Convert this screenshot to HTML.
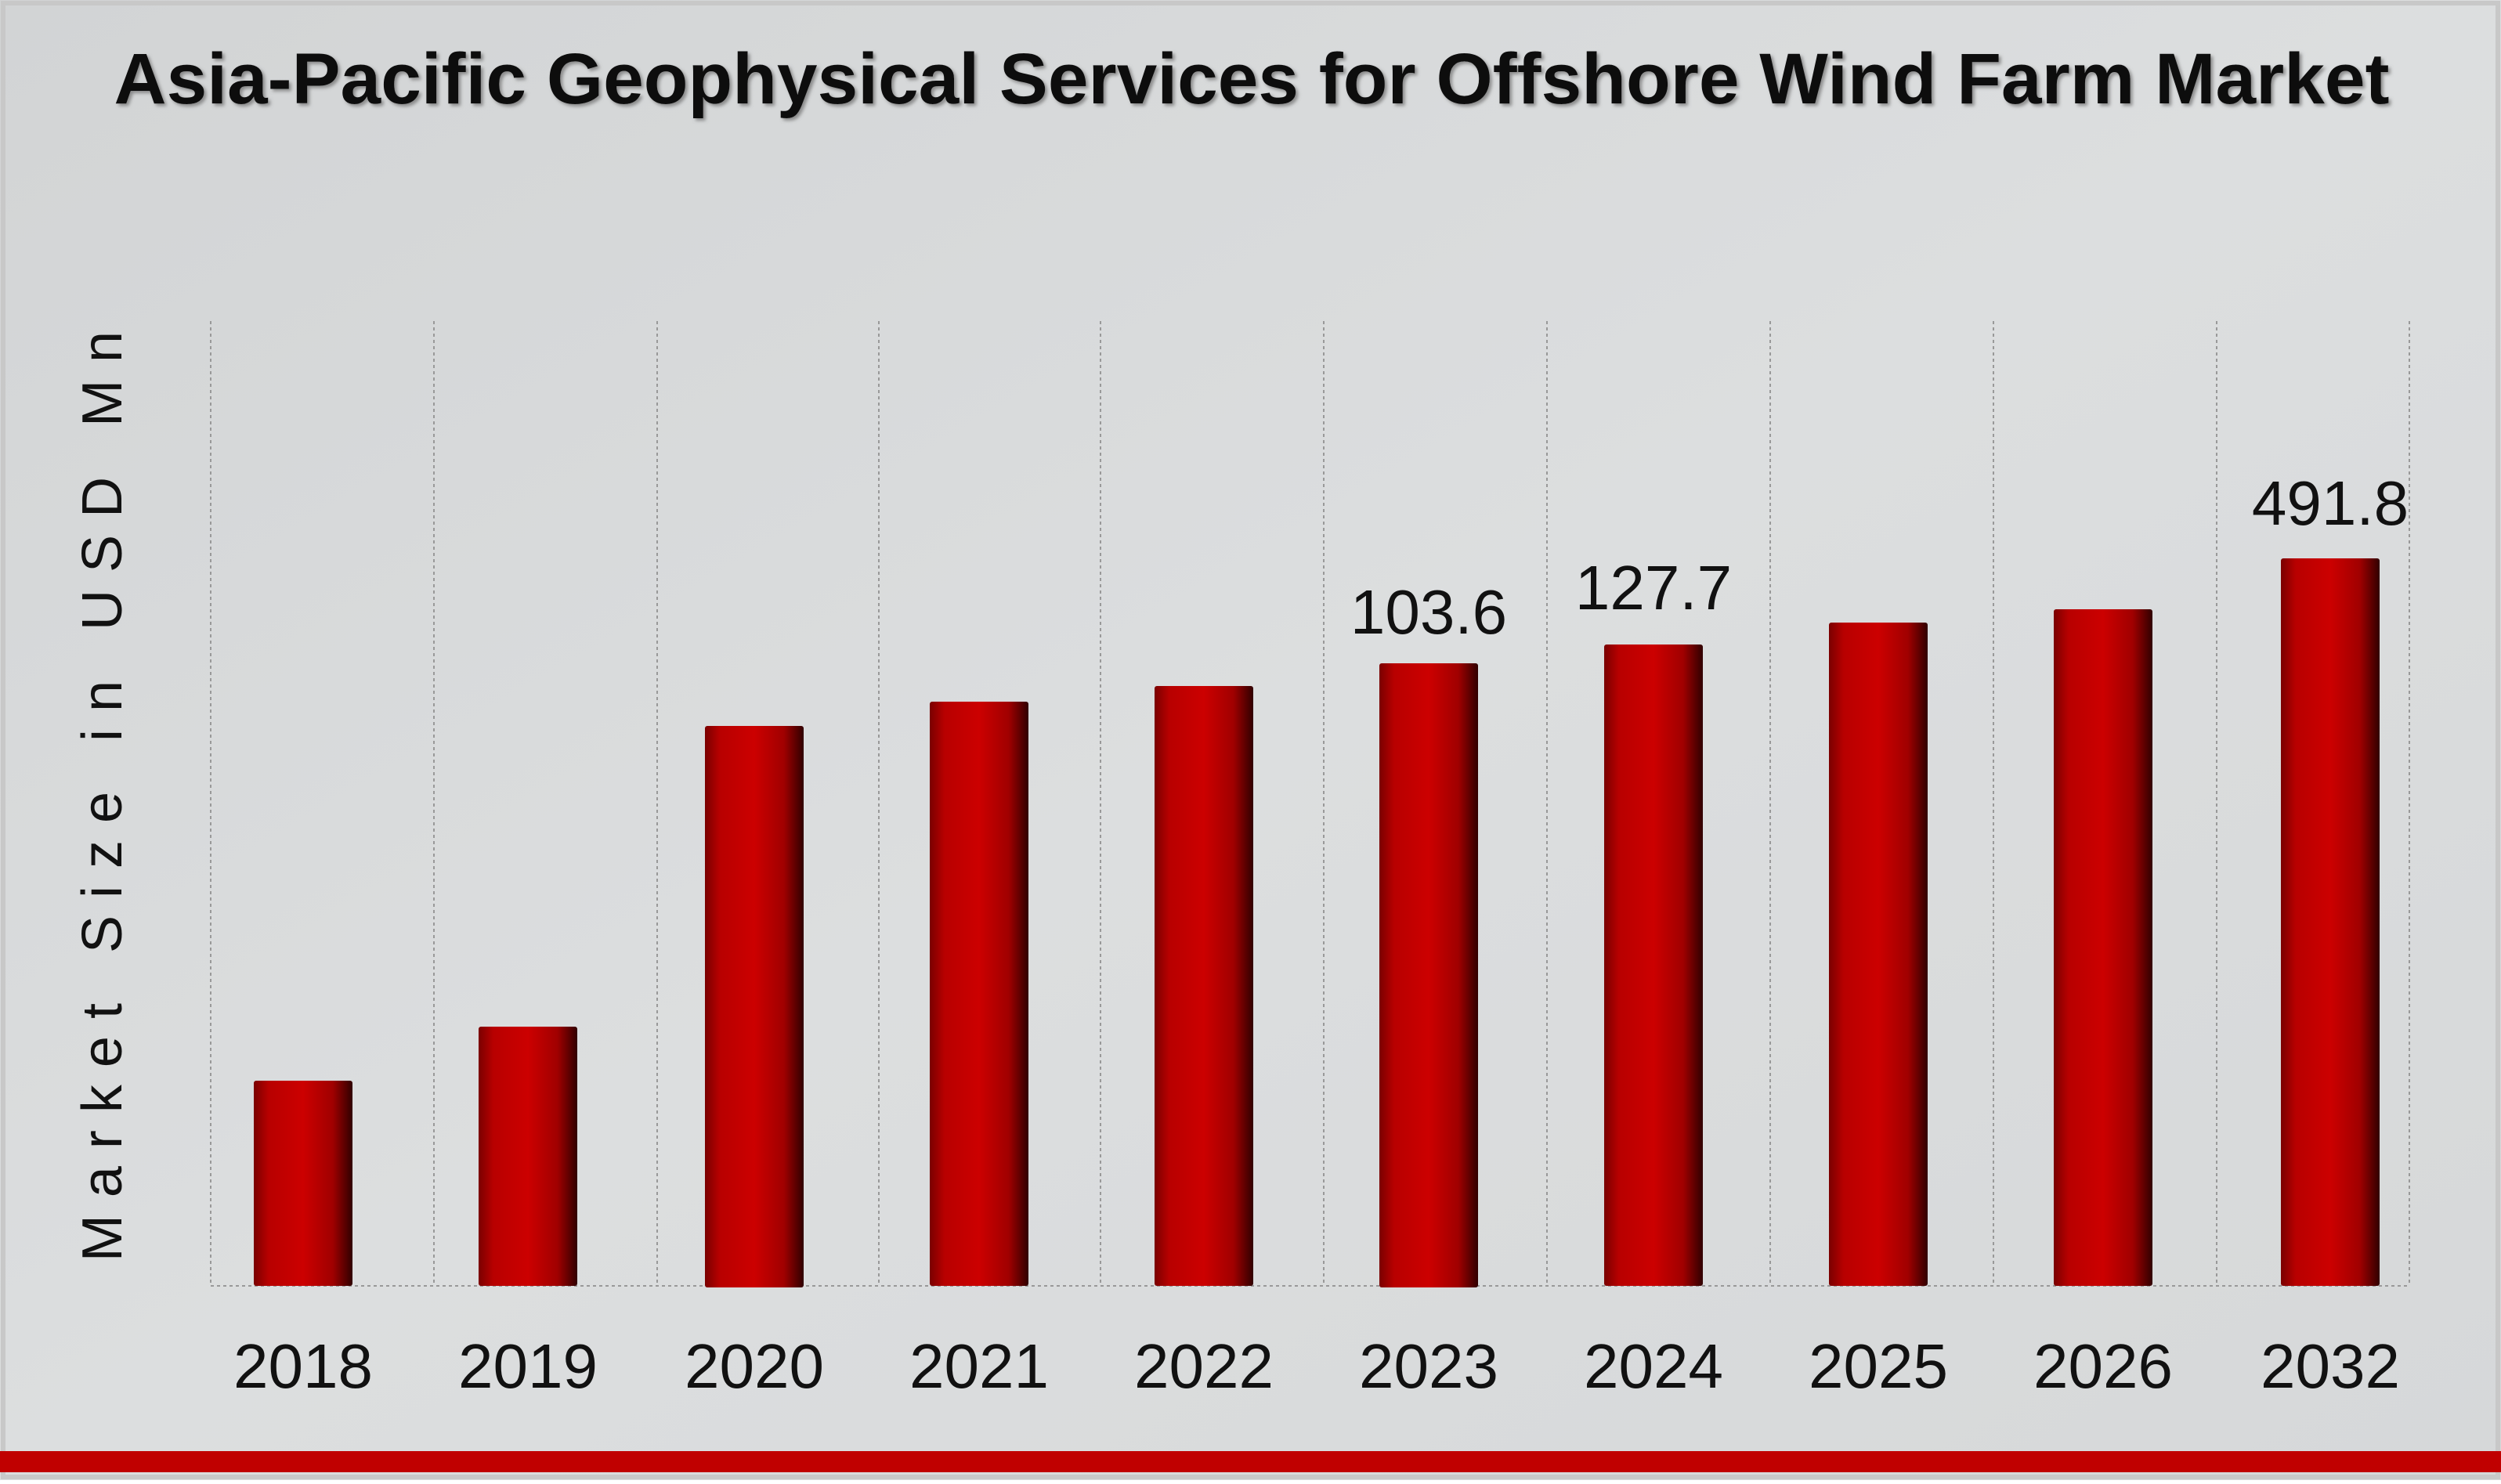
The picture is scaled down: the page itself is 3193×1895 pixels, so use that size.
<!DOCTYPE html>
<html><head><meta charset="utf-8"><style>
html,body{margin:0;padding:0}
body{width:3193px;height:1890px;overflow:hidden;background:#fff;font-family:"Liberation Sans",sans-serif}
</style></head><body>
<svg width="3193" height="1890" viewBox="0 0 3193 1890" xmlns="http://www.w3.org/2000/svg">
<defs>
<linearGradient id="bg" x1="0" y1="0" x2="1" y2="1">
<stop offset="0" stop-color="#d2d4d5"/><stop offset="0.5" stop-color="#dcdedf"/><stop offset="1" stop-color="#d6d8d9"/>
</linearGradient>
<linearGradient id="bar" x1="0" y1="0" x2="1" y2="0">
<stop offset="0" stop-color="#7a0000"/><stop offset="0.15" stop-color="#b80000"/><stop offset="0.5" stop-color="#cc0000"/><stop offset="0.8" stop-color="#a00000"/><stop offset="1" stop-color="#300000"/>
</linearGradient>
<filter id="sh"><feDropShadow dx="3" dy="3" stdDeviation="2" flood-color="#777" flood-opacity="0.8"/></filter>
</defs>
<rect x="0" y="0" width="3193" height="1890" fill="url(#bg)"/>
<rect x="4" y="4" width="3185" height="1882" fill="none" stroke="#c8c8c8" stroke-width="6"/>
<rect x="0" y="1853" width="3193" height="27" fill="#c00000"/>
<text x="1598" y="132" text-anchor="middle" font-size="92" font-weight="bold" fill="#111" filter="url(#sh)" textLength="2905" lengthAdjust="spacingAndGlyphs">Asia-Pacific Geophysical Services for Offshore Wind Farm Market</text>
<g stroke="#999" stroke-width="2" stroke-dasharray="4,4" fill="none">
<line x1="269" y1="410" x2="269" y2="1642"/><line x1="554" y1="410" x2="554" y2="1642"/>
<line x1="839" y1="410" x2="839" y2="1642"/><line x1="1122" y1="410" x2="1122" y2="1642"/>
<line x1="1405" y1="410" x2="1405" y2="1642"/><line x1="1690" y1="410" x2="1690" y2="1642"/>
<line x1="1975" y1="410" x2="1975" y2="1642"/><line x1="2260" y1="410" x2="2260" y2="1642"/>
<line x1="2545" y1="410" x2="2545" y2="1642"/><line x1="2830" y1="410" x2="2830" y2="1642"/>
<line x1="3076" y1="410" x2="3076" y2="1642"/>
<line x1="269" y1="1642" x2="3076" y2="1642"/>
</g>
<g fill="url(#bar)">
<rect x="324" y="1380" width="126" height="262" rx="3"/>
<rect x="611" y="1311" width="126" height="331" rx="3"/>
<rect x="900" y="927" width="126" height="717" rx="3"/>
<rect x="1187" y="896" width="126" height="746" rx="3"/>
<rect x="1474" y="876" width="126" height="766" rx="3"/>
<rect x="1761" y="847" width="126" height="797" rx="3"/>
<rect x="2048" y="823" width="126" height="819" rx="3"/>
<rect x="2335" y="795" width="126" height="847" rx="3"/>
<rect x="2622" y="778" width="126" height="864" rx="3"/>
<rect x="2912" y="713" width="126" height="929" rx="3"/>
</g>
<g font-size="80" fill="#111" text-anchor="middle">
<text x="387" y="1772">2018</text><text x="674" y="1772">2019</text><text x="963" y="1772">2020</text>
<text x="1250" y="1772">2021</text><text x="1537" y="1772">2022</text><text x="1824" y="1772">2023</text>
<text x="2111" y="1772">2024</text><text x="2398" y="1772">2025</text><text x="2685" y="1772">2026</text>
<text x="2975" y="1772">2032</text>
<text x="1824" y="809">103.6</text><text x="2111" y="778">127.7</text><text x="2975" y="670">491.8</text>
</g>
<text transform="translate(155,1006) rotate(-90)" text-anchor="middle" font-size="72" letter-spacing="22" fill="#111">Market Size in USD Mn</text>
</svg>
</body></html>
